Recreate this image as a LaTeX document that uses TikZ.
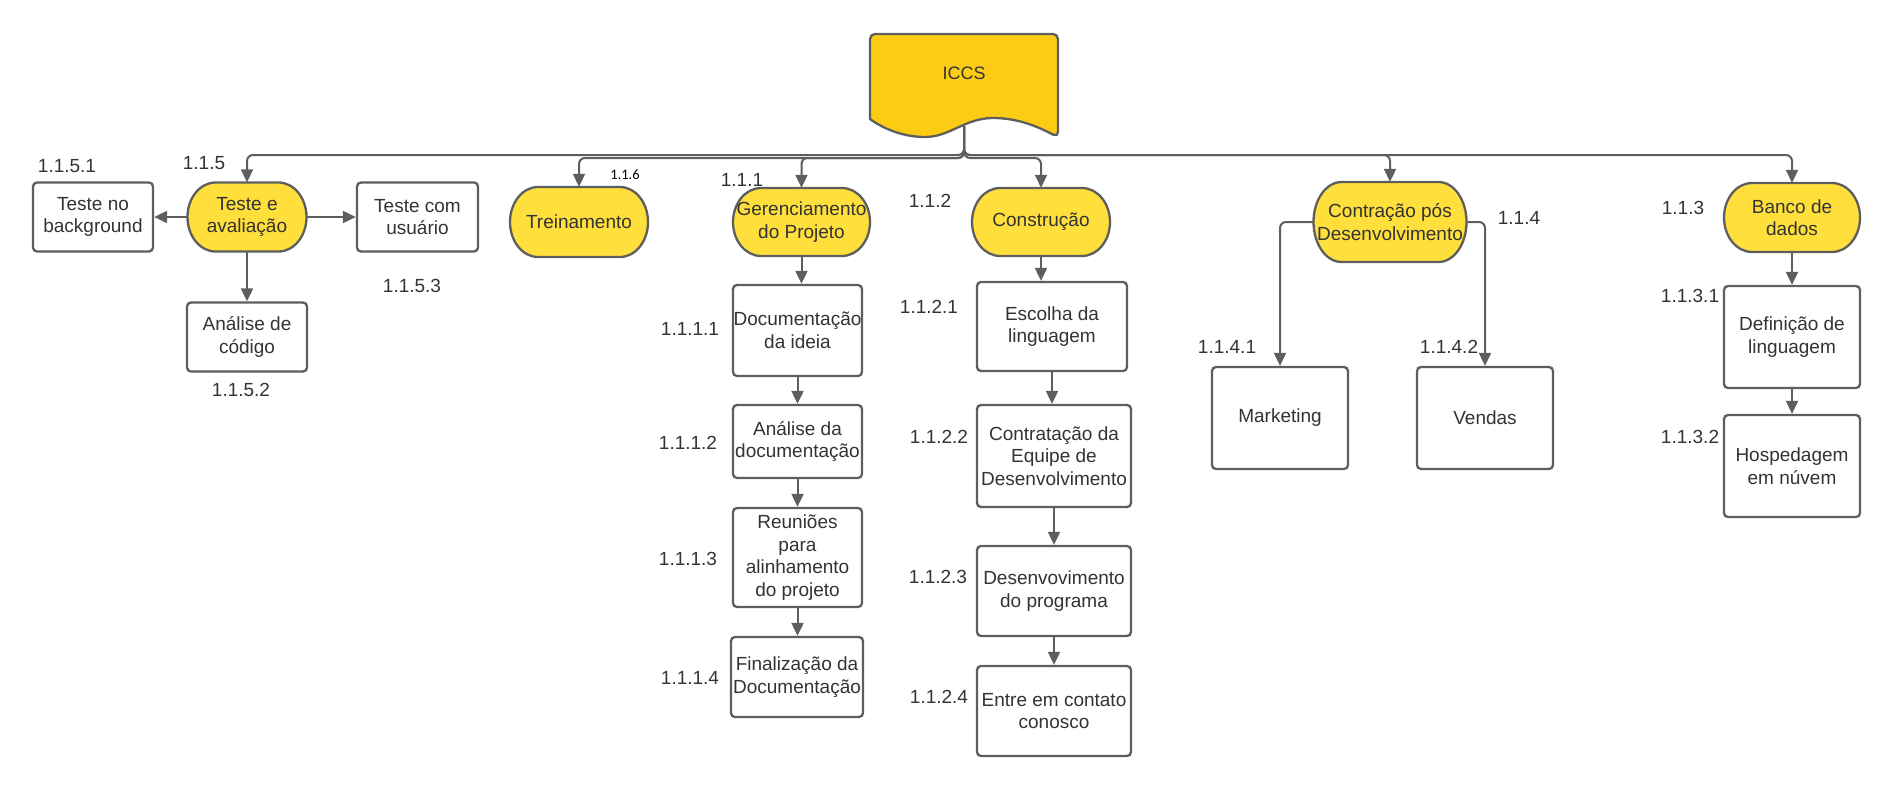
\documentclass[tikz,border=0pt]{standalone}
\usepackage{fontspec}
\setmainfont{Liberation Sans}
\newfontfamily\smallfont{Carlito}
\usetikzlibrary{arrows.meta}
\definecolor{bordc}{HTML}{5E5E5E}
\definecolor{txtc}{HTML}{333333}
\definecolor{yel}{HTML}{FFDF3C}
\definecolor{iccsc}{HTML}{FCCC14}
\newcommand\nf{\fontsize{19}{22.5}\selectfont}
\tikzset{
  box/.style={draw=bordc, line width=2.3pt, rounded corners=4pt, fill=white, align=center,
    text=txtc, font=\nf, inner sep=0pt},
  termshape/.style={draw=bordc, fill=yel, line width=2.3pt},
  lbl/.style={text=txtc, font=\nf, inner sep=0pt},
  conn/.style={draw=bordc, line width=2pt, -{Triangle[length=13pt,width=12pt]}, rounded corners=6pt}
}
% yellow terminal: name, x, y, w, h, text
\newcommand\termnode[6]{%
  \pgfmathsetmacro\trmL{#2-#4/2+28}%
  \pgfmathsetmacro\trmR{#2+#4/2-28}%
  \pgfmathsetmacro\trmT{#3-#5/2}%
  \pgfmathsetmacro\trmB{#3+#5/2}%
  \pgfmathsetmacro\trmH{#5/2}%
  \path[termshape] (\trmL,\trmT) -- (\trmR,\trmT)
    arc[start angle=90, end angle=-90, x radius=28pt, y radius=\trmH pt]
    -- (\trmL,\trmB)
    arc[start angle=270, end angle=90, x radius=28pt, y radius=\trmH pt] -- cycle;
  \node[lbl, align=center, minimum width=#4pt, minimum height=#5pt] (#1) at (#2,#3) {#6};%
}
\begin{document}
\begin{tikzpicture}[x=1pt,y=-1pt]
\useasboundingbox (0,0) rectangle (1895,788);
% ICCS document shape
\path[draw=bordc, fill=iccsc, line width=2.3pt]
  (1058,137) .. controls (1040,128) and (1020,118) .. (993,118)
  .. controls (965,118) and (950,137) .. (925,137)
  .. controls (905,137) and (885,130) .. (870,119)
  [rounded corners=5pt] -- (870,34) -- (1058,34) -- cycle;
\node[lbl, font=\fontsize{18}{20}\selectfont] (iccs) at (964,73) {ICCS};
\coordinate (iccsb) at (964,126);
\coordinate (busA) at (964,155);
\coordinate (busB) at (964,158);

% level 1
\termnode{tea}{247}{217}{119}{69}{Teste e\\avaliação}
\termnode{tre}{579}{222}{138}{70}{Treinamento}
\termnode{ger}{801.5}{222}{137}{68}{Gerenciamento\\do Projeto}
\termnode{con}{1041}{222}{138}{68}{Construção}
\termnode{cpd}{1390}{222}{153}{80}{Contração pós\\Desenvolvimento}
\termnode{bdd}{1792}{217.5}{136}{69}{Banco de\\dados}

% 1.1.5 children
\node[box, minimum width=120pt, minimum height=69pt] (tnb) at (93,217) {Teste no\\background};
\node[box, minimum width=121pt, minimum height=69pt] (tcu) at (417.5,217) {Teste com\\usuário};
\node[box, minimum width=120pt, minimum height=69pt] (adc) at (247,337) {Análise de\\código};

% 1.1.1 children
\node[box, minimum width=129pt, minimum height=91pt] (doca) at (797.5,330.5) {Documentação\\da ideia};
\node[box, minimum width=129pt, minimum height=73pt] (docb) at (797.5,441.5) {Análise da\\documentação};
\node[box, minimum width=129pt, minimum height=99pt] (docc) at (797.5,557.5) {Reuniões\\para\\alinhamento\\do projeto};
\node[box, minimum width=132pt, minimum height=80pt] (docd) at (797,677) {Finalização da\\Documentação};

% 1.1.2 children
\node[box, minimum width=150pt, minimum height=89pt] (esca) at (1052,326.5) {Escolha da\\linguagem};
\node[box, minimum width=154pt, minimum height=102pt] (escb) at (1054,456) {Contratação da\\Equipe de\\Desenvolvimento};
\node[box, minimum width=154pt, minimum height=90pt] (escc) at (1054,591) {Desenvovimento\\do programa};
\node[box, minimum width=154pt, minimum height=90pt] (escd) at (1054,711) {Entre em contato\\conosco};

% 1.1.4 children
\node[box, minimum width=136pt, minimum height=102pt] (mkt) at (1280,418) {Marketing};
\node[box, minimum width=136pt, minimum height=102pt] (ven) at (1485,418) {Vendas};

% 1.1.3 children
\node[box, minimum width=136pt, minimum height=102pt] (def) at (1792,337) {Definição de\\linguagem};
\node[box, minimum width=136pt, minimum height=102pt] (hos) at (1792,466) {Hospedagem\\em núvem};

% labels
\node[lbl] (l1151) at (67,166) {1.1.5.1};
\node[lbl] (l115) at (204,163) {1.1.5};
\node[lbl] (l1153) at (412,286) {1.1.5.3};
\node[lbl] (l1152) at (241,390) {1.1.5.2};
\node[inner sep=0pt, font=\smallfont\fontsize{14.5}{16}\selectfont, text=black] (l116) at (625,175) {1.1.6};
\node[lbl] (l111) at (742,180) {1.1.1};
\node[lbl] (l112) at (930,201) {1.1.2};
\node[lbl] (l114) at (1519,218) {1.1.4};
\node[lbl] (l113) at (1683,208) {1.1.3};
\node[lbl] (l1141) at (1227,347) {1.1.4.1};
\node[lbl] (l1142) at (1449,347) {1.1.4.2};
\node[lbl] (l1131) at (1690,296) {1.1.3.1};
\node[lbl] (l1132) at (1690,437) {1.1.3.2};
\node[lbl] (l1111) at (690,329) {1.1.1.1};
\node[lbl] (l1112) at (688,443) {1.1.1.2};
\node[lbl] (l1113) at (688,559) {1.1.1.3};
\node[lbl] (l1114) at (690,678) {1.1.1.4};
\node[lbl] (l1121) at (929,307) {1.1.2.1};
\node[lbl] (l1122) at (939,437) {1.1.2.2};
\node[lbl] (l1123) at (938,577) {1.1.2.3};
\node[lbl] (l1124) at (939,697) {1.1.2.4};

% connectors from ICCS
\draw[conn] (iccsb) -- (busA) -| (tea.north);
\draw[conn] (iccsb) -- (busB) -| (tre.north);
\draw[conn] (iccsb) -- (busB) -| (ger.north);
\draw[conn] (iccsb) -- (busB) -| (con.north);
\draw[conn] (iccsb) -- (busA) -| (cpd.north);
\draw[conn] (iccsb) -- (busA) -| (bdd.north);

% 1.1.5
\draw[conn] (tea.west) -- (tnb.east);
\draw[conn] (tea.east) -- (tcu.west);
\draw[conn] (tea.south) -- (adc.north);

% 1.1.1
\draw[conn] (ger.south) -- (ger.south |- doca.north);
\draw[conn] (doca.south) -- (docb.north);
\draw[conn] (docb.south) -- (docc.north);
\draw[conn] (docc.south) -- (docc.south |- docd.north);

% 1.1.2
\draw[conn] (con.south) -- (con.south |- esca.north);
\draw[conn] (esca.south) -- (esca.south |- escb.north);
\draw[conn] (escb.south) -- (escb.south |- escc.north);
\draw[conn] (escc.south) -- (escd.north);

% 1.1.4
\draw[conn] (cpd.west) -| (mkt.north);
\draw[conn] (cpd.east) -| (ven.north);

% 1.1.3
\draw[conn] (bdd.south) -- (def.north);
\draw[conn] (def.south) -- (hos.north);
\end{tikzpicture}
\end{document}
